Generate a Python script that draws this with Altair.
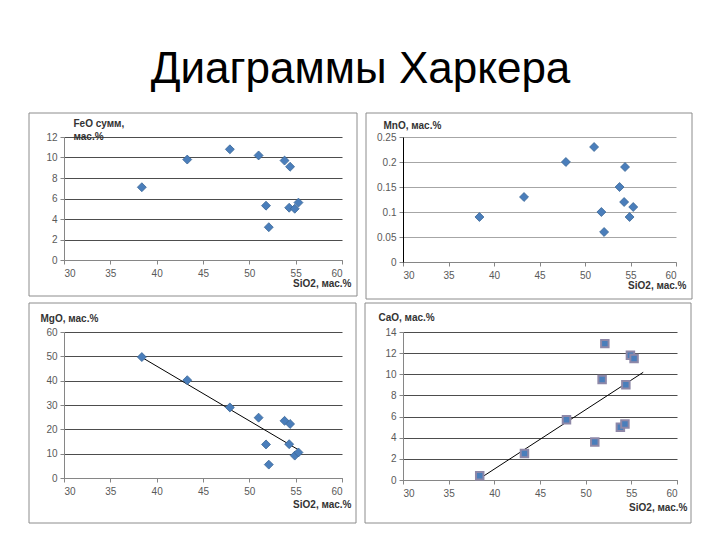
import altair as alt
import pandas as pd

# ---- data ----
SIO2 = [38.4, 43.3, 47.9, 51.0, 51.8, 52.1, 53.8, 54.3, 54.4, 54.9, 55.3]
FEO = [7.1, 9.8, 10.8, 10.2, 5.3, 3.2, 9.7, 5.1, 9.1, 5.0, 5.6]
MNO = [0.09, 0.13, 0.20, 0.23, 0.10, 0.06, 0.15, 0.12, 0.19, 0.09, 0.11]
MGO = [49.7, 40.2, 29.0, 24.8, 13.8, 5.5, 23.5, 13.9, 22.2, 9.2, 10.5]
CAO = [0.4, 2.5, 5.7, 3.6, 9.5, 12.9, 5.0, 5.3, 9.0, 11.8, 11.5]

X_TICKS = [30, 35, 40, 45, 50, 55, 60]
FEO_TICKS = [0, 2, 4, 6, 8, 10, 12]
MNO_TICKS = [0, 0.05, 0.1, 0.15, 0.2, 0.25]
MGO_TICKS = [0, 10, 20, 30, 40, 50, 60]
CAO_TICKS = [0, 2, 4, 6, 8, 10, 12, 14]
CAO_TREND_EXTENT = [38.4, 56.3]

TITLE = "Диаграммы Харкера"
X_TITLE = "SiO2, мас.%"

df = pd.DataFrame({"sio2": SIO2, "feo": FEO, "mno": MNO, "mgo": MGO, "cao": CAO})
frame_df = pd.DataFrame({"f": [0]})

FONT = "Liberation Sans"
BLUE = "#4A7EBB"


def panel(ycol, ytitle, ydomain, yticks, w, h, frame, ytpos, xtpos,
          grid_color, yaxis_color, shape="diamond", size=80,
          stroke="#3A6696", stroke_width=0.8, trend=None):
    x = alt.X("sio2:Q", scale=alt.Scale(domain=[30, 60], nice=False, zero=False),
              axis=alt.Axis(values=X_TICKS, grid=False, title=X_TITLE,
                            titleX=xtpos[0], titleY=xtpos[1], titleAlign="right",
                            titleBaseline="middle", titleFont=FONT, titleFontSize=10,
                            titleFontWeight="bold", titleColor="#333333",
                            labelFont=FONT, labelFontSize=10, labelColor="#595959",
                            labelPadding=4, tickSize=4, tickColor="#868686",
                            labelOverlap=False, domainColor="#868686"))
    y = alt.Y(f"{ycol}:Q", scale=alt.Scale(domain=ydomain, nice=False, zero=True),
              axis=alt.Axis(values=yticks, grid=True, gridColor=grid_color,
                            gridWidth=1, labelExpr="'' + datum.value", title=ytitle,
                            titleAngle=0, titleX=ytpos[0], titleY=ytpos[1],
                            titleAlign="left", titleBaseline="top",
                            titleLineHeight=13, titleFont=FONT, titleFontSize=10,
                            titleFontWeight="bold", titleColor="#333333",
                            labelFont=FONT, labelFontSize=10, labelColor="#595959",
                            labelPadding=3, tickSize=4, tickColor="#868686",
                            labelOverlap=False, domainColor=yaxis_color))
    base = alt.Chart(df)
    layers = []
    box = alt.Chart(frame_df).mark_rect(filled=False, stroke="#8C8C8C",
                                        strokeWidth=1).encode(
        x=alt.value(frame[0]), x2=alt.value(w + frame[2]),
        y=alt.value(frame[1]), y2=alt.value(h + frame[3]))
    layers.append(box)
    pts = base.mark_point(shape=shape, filled=True, size=size, fill=BLUE,
                          stroke=stroke, strokeWidth=stroke_width,
                          opacity=1).encode(x=x, y=y)
    if trend is not None:
        line = base.transform_regression("sio2", ycol, **trend).mark_line(
            color="#000000", strokeWidth=1).encode(x=x, y=y)
        layers.append(line)
    layers.append(pts)
    return alt.layer(*layers).properties(width=w, height=h)


p1 = panel("feo", ["FeO сумм,", "мас.%"], [0, 12], FEO_TICKS, 278, 123,
           (-35, -24, 15, 36), (9, -19), (287, 23), "#4d4d4d", "#868686")
p2 = panel("mno", "MnO, мас.%", [0, 0.25], MNO_TICKS, 273, 125,
           (-37, -24, 16, 37), (-20, -17), (283, 23), "#a6a6a6", "#000000")
p3 = panel("mgo", "MgO, мас.%", [0, 60], MGO_TICKS, 278, 146,
           (-35, -29, 14, 45), (-24, -19), (287, 26), "#4d4d4d", "#868686",
           trend={})
p4 = panel("cao", "CaO, мас.%", [0, 14], CAO_TICKS, 274, 148,
           (-38, -29, 14, 43), (-25, -20), (284, 27), "#4d4d4d", "#868686",
           shape="square", size=56, stroke="#8E88A8", stroke_width=2,
           trend={"extent": CAO_TREND_EXTENT})

chart = alt.concat(p1, p2, p3, p4, columns=2,
                   spacing={"row": 70, "column": 61},
                   bounds="flush", align="each").properties(
    title=alt.TitleParams(TITLE, font=FONT, fontSize=44, fontWeight="normal",
                          color="#000000", anchor="middle", offset=21),
    padding={"left": 28, "top": 47, "right": 5, "bottom": 5},
    background="#ffffff",
).configure_view(strokeWidth=0)

chart.save("out.html", embed_options={"renderer": "svg", "actions": False})
